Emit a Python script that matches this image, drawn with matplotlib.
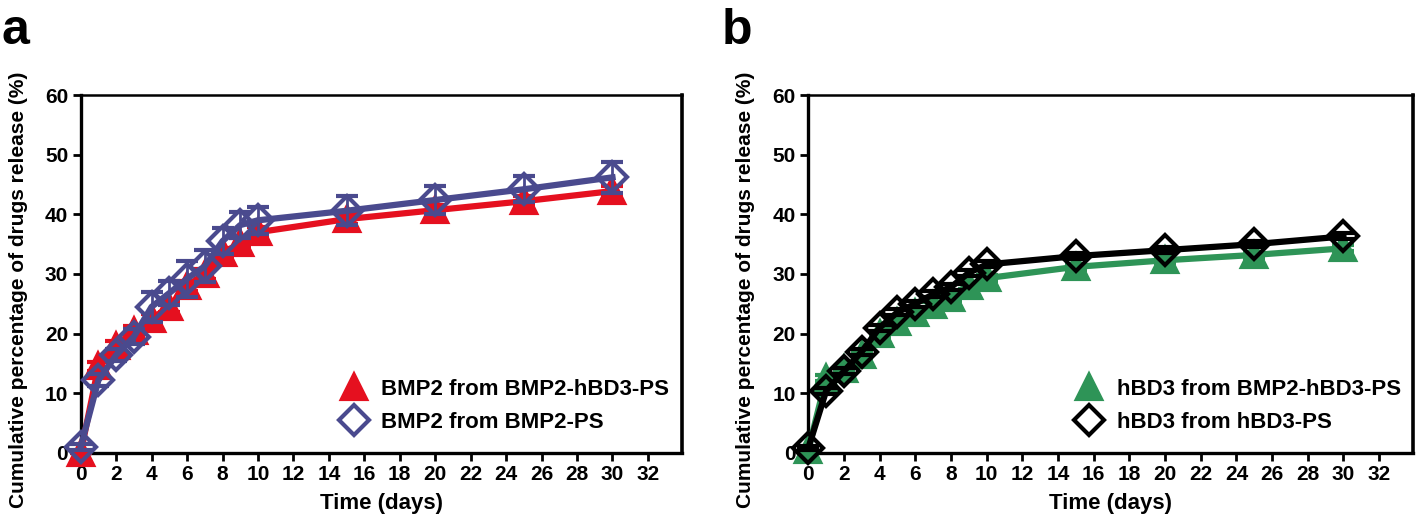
import matplotlib.pyplot as plt
from matplotlib.lines import Line2D

plt.rcParams['font.family'] = ['Liberation Sans', 'DejaVu Sans']
plt.rcParams['font.weight'] = 'bold'

days = [0, 1, 2, 3, 4, 5, 6, 7, 8, 9, 10, 15, 20, 25, 30]

# panel a
bmp2_dual = [0, 14.5, 18, 20.5, 22.5, 24.5, 28, 30, 33.5, 35.2, 37, 39.2, 40.7, 42.2, 43.9]
bmp2_dual_err = [0, 0.8, 0.8, 0.8, 0.8, 0.8, 0.8, 0.8, 0.8, 0.8, 0.8, 0.8, 0.8, 0.8, 0.8]
bmp2_single = [1, 12.2, 16.4, 19.5, 24.5, 26.8, 29.2, 31.3, 35.5, 38.2, 39, 40.6, 42.4, 44.2, 46.2]
bmp2_single_err = [0.5, 1, 1, 1.2, 2.5, 2, 3, 2.7, 2.2, 2.2, 2.3, 2.4, 2.3, 2.2, 2.6]

# panel b
hbd3_dual = [0.5, 12.5, 14, 16.5, 20, 22, 23.4, 24.8, 26, 28, 29.3, 31.2, 32.3, 33.2, 34.3]
hbd3_dual_err = [0.3, 0.5, 0.5, 0.5, 0.5, 0.5, 0.5, 0.5, 0.5, 0.5, 0.5, 0.5, 0.5, 0.5, 0.5]
hbd3_single = [0.8, 10.4, 13.7, 17, 21, 23.6, 25, 26.6, 27.8, 30.2, 31.6, 33, 34, 35, 36.3]
hbd3_single_err = [0.3, 0.5, 0.5, 0.5, 0.5, 0.5, 0.5, 0.5, 0.5, 0.5, 0.5, 0.5, 0.5, 0.5, 0.5]

red = '#E5101F'
purple = '#4A4A8E'
green = '#2E9457'

fig = plt.figure(figsize=(14.18, 5.24), dpi=100)
ax1 = fig.add_axes([0.0569, 0.1355, 0.4238, 0.6832])
ax2 = fig.add_axes([0.5700, 0.1355, 0.4265, 0.6832])


def style(ax):
    ax.set_xlim(0, 33.9)
    ax.set_ylim(0, 60)
    ax.set_xticks(range(0, 33, 2))
    ax.set_yticks(range(0, 61, 10))
    for s in ['left', 'bottom']:
        ax.spines[s].set_linewidth(2.4)
    ax.spines['top'].set_linewidth(1.8)
    ax.spines['right'].set_linewidth(2.6)
    ax.tick_params(width=2, length=6, labelsize=15, pad=3)
    for lab in ax.get_xticklabels() + ax.get_yticklabels():
        lab.set_fontweight('bold')
    ax.set_xlabel('Time (days)', fontsize=16, fontweight='bold', labelpad=6)
    ax.set_ylabel('Cumulative percentage of drugs release (%)', fontsize=15,
                  fontweight='bold')
    ax.yaxis.set_label_coords(-0.088, 0.455)


def series(ax, y, err, color, marker, ms, filled, z):
    ax.errorbar(days, y, yerr=err, color=color, lw=4.5, marker=marker, ms=ms,
                mfc=color if filled else 'none', mec=color, mew=3,
                capsize=8, capthick=2, elinewidth=2, clip_on=False, zorder=z)


def legend(ax, items):
    handles = [Line2D([], [], ls='none', marker=m, ms=ms, color=c,
                      mfc=c if f else 'none', mec=c, mew=3) for c, m, ms, f, _ in items]
    ax.legend(handles, [it[4] for it in items], loc='lower right',
              bbox_to_anchor=(1.013, 0.0), frameon=False, handlelength=1.0,
              handletextpad=0.75, labelspacing=0.55,
              prop={'weight': 'bold', 'size': 16})


series(ax1, bmp2_dual, bmp2_dual_err, red, '^', 17, True, 3)
series(ax1, bmp2_single, bmp2_single_err, purple, 'D', 15, False, 4)
style(ax1)
legend(ax1, [(red, '^', 17, True, 'BMP2 from BMP2-hBD3-PS'),
             (purple, 'D', 15, False, 'BMP2 from BMP2-PS')])

series(ax2, hbd3_dual, hbd3_dual_err, green, '^', 17, True, 3)
series(ax2, hbd3_single, hbd3_single_err, 'black', 'D', 15, False, 4)
style(ax2)
legend(ax2, [(green, '^', 17, True, 'hBD3 from BMP2-hBD3-PS'),
             ('black', 'D', 15, False, 'hBD3 from hBD3-PS')])

fig.text(0.001, 0.985, 'a', fontsize=36, fontweight='bold', va='top', ha='left')
fig.text(0.509, 0.985, 'b', fontsize=36, fontweight='bold', va='top', ha='left')

fig.savefig('out.png', dpi=100)
